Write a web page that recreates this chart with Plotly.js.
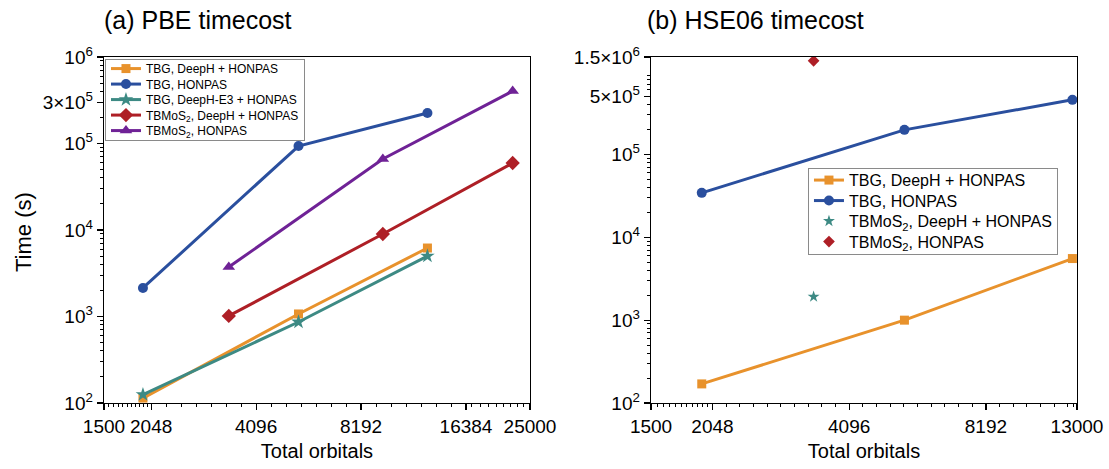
<!DOCTYPE html>
<html>
<head>
<meta charset="utf-8">
<script src="https://cdn.plot.ly/plotly-3.0.1.min.js"></script>
<style>html,body{margin:0;padding:0;background:#fff}#chart{width:1109px;height:469px}</style>
</head>
<body>
<div id="chart"></div>
<script>
// ---------- data ----------
var orbitalsTBG = [1940, 5420, 12700];
var orbitalsMoS2 = [3420, 9460, 22300];
var orbitalsMoS2HSE = [3420];

var pbeTBGDeepH = [114, 1070, 6190];
var pbeTBGHonpas = [2140, 93500, 225000];
var pbeTBGDeepHE3 = [125, 864, 5000];
var pbeMoS2DeepH = [1015, 8990, 59500];
var pbeMoS2Honpas = [3730, 66200, 404000];

var hseTBGDeepH = [170, 1000, 5540];
var hseTBGHonpas = [34400, 198000, 456000];
var hseMoS2DeepH = [1920];
var hseMoS2Honpas = [1350000];

var namesPBE = ['TBG, DeepH + HONPAS', 'TBG, HONPAS', 'TBG, DeepH-E3 + HONPAS',
                'TBMoS<sub>2</sub>, DeepH + HONPAS', 'TBMoS<sub>2</sub>, HONPAS'];
var namesHSE = ['TBG, DeepH + HONPAS', 'TBG, HONPAS',
                'TBMoS<sub>2</sub>, DeepH + HONPAS', 'TBMoS<sub>2</sub>, HONPAS'];

var xTicksLeft = [1500, 2048, 4096, 8192, 16384, 25000];
var xTicksRight = [1500, 2048, 4096, 8192, 13000];
var yTicksLeft = [100, 1000, 10000, 100000, 300000, 1000000];
var yTextLeft = ['10<sup>2</sup>', '10<sup>3</sup>', '10<sup>4</sup>', '10<sup>5</sup>', '3×10<sup>5</sup>', '10<sup>6</sup>'];
var yTicksRight = [100, 1000, 10000, 100000, 500000, 1500000];
var yTextRight = ['10<sup>2</sup>', '10<sup>3</sup>', '10<sup>4</sup>', '10<sup>5</sup>', '5×10<sup>5</sup>', '1.5×10<sup>6</sup>'];

// ---------- styles ----------
var cOrange = '#E8922C', cBlue = '#2A4F9E', cTeal = '#3D8A84', cRed = '#AE1F26', cPurple = '#6F2296';
var FONT = 'Liberation Sans, Arial, sans-serif';

// minor ticks
function octaveMinors(starts, n, maxv) {
  var out = [];
  starts.forEach(function (s) {
    for (var k = 1; k < n; k++) { var v = s * Math.pow(2, k / n); if (v < maxv) out.push(v); }
  });
  return out;
}
function stepMinors(a, b, step) { var o = []; for (var v = a; v <= b; v += step) o.push(v); return o; }
var minorXLeft = stepMinors(1550, 2000, 50).concat(octaveMinors([2048, 4096, 8192], 7, 16384)).concat(stepMinors(17000, 24000, 1000));
var minorXRight = stepMinors(1550, 2000, 50).concat(octaveMinors([2048, 4096], 10, 8192)).concat(octaveMinors([8192], 10, 12600)).concat([12800]);
function logMinors(d0, d1) { var o = []; for (var d = d0; d <= d1; d++) for (var k = 2; k <= 9; k++) o.push(k * Math.pow(10, d)); return o; }
var minorY = logMinors(2, 5);

function lineTrace(x, y, name, color, sym, size, xa, ya, leg) {
  return {x: x, y: y, name: name, type: 'scatter', mode: 'lines+markers', xaxis: xa, yaxis: ya, legend: leg,
          line: {color: color, width: 3}, marker: {color: color, symbol: sym, size: size}};
}
function markTrace(x, y, name, color, sym, size, xa, ya, leg) {
  return {x: x, y: y, name: name, type: 'scatter', mode: 'markers', xaxis: xa, yaxis: ya, legend: leg,
          marker: {color: color, symbol: sym, size: size}};
}

var traces = [
  lineTrace(orbitalsTBG, pbeTBGDeepH, namesPBE[0], cOrange, 'square', 9, 'x', 'y', 'legend'),
  lineTrace(orbitalsTBG, pbeTBGHonpas, namesPBE[1], cBlue, 'circle', 10, 'x', 'y', 'legend'),
  lineTrace(orbitalsTBG, pbeTBGDeepHE3, namesPBE[2], cTeal, 'star', 11, 'x', 'y', 'legend'),
  lineTrace(orbitalsMoS2, pbeMoS2DeepH, namesPBE[3], cRed, 'diamond', 11, 'x', 'y', 'legend'),
  lineTrace(orbitalsMoS2, pbeMoS2Honpas, namesPBE[4], cPurple, 'triangle-up', 11, 'x', 'y', 'legend'),
  lineTrace(orbitalsTBG, hseTBGDeepH, namesHSE[0], cOrange, 'square', 9, 'x2', 'y2', 'legend2'),
  lineTrace(orbitalsTBG, hseTBGHonpas, namesHSE[1], cBlue, 'circle', 10, 'x2', 'y2', 'legend2'),
  markTrace(orbitalsMoS2HSE, hseMoS2DeepH, namesHSE[2], cTeal, 'star', 9, 'x2', 'y2', 'legend2'),
  markTrace(orbitalsMoS2HSE, hseMoS2Honpas, namesHSE[3], cRed, 'diamond', 9, 'x2', 'y2', 'legend2')
];

function xAxis(domain, ticks, minors, maxv, anchor) {
  return {
    type: 'log', domain: domain, anchor: anchor,
    range: [Math.log10(1500), Math.log10(maxv)],
    tickmode: 'array', tickvals: ticks, ticktext: ticks.map(String),
    ticks: 'outside', ticklen: 6, tickwidth: 1.2, tickcolor: '#000',
    minor: {tickmode: 'array', tickvals: minors, ticks: 'outside', ticklen: 3, tickwidth: 1, tickcolor: '#000', showgrid: false},
    showline: true, linecolor: '#000', linewidth: 1.3, mirror: true,
    showgrid: false, zeroline: false, automargin: false,
    tickfont: {family: FONT, size: 19, color: '#000'},
    title: {text: 'Total orbitals', font: {family: FONT, size: 20, color: '#000'}, standoff: 8}
  };
}
function yAxis(ticks, texts, maxv, anchor) {
  return {
    type: 'log', domain: [0, 1], anchor: anchor,
    range: [2, Math.log10(maxv)],
    tickmode: 'array', tickvals: ticks, ticktext: texts,
    ticks: 'outside', ticklen: 6, tickwidth: 1.2, tickcolor: '#000',
    minor: {tickmode: 'array', tickvals: minorY, ticks: 'outside', ticklen: 3, tickwidth: 1, tickcolor: '#000', showgrid: false},
    showline: true, linecolor: '#000', linewidth: 1.3, mirror: true,
    showgrid: false, zeroline: false, automargin: false,
    tickfont: {family: FONT, size: 19, color: '#000'}
  };
}

var layout = {
  width: 1109, height: 469,
  margin: {l: 104, r: 32, t: 57, b: 66},
  paper_bgcolor: '#fff', plot_bgcolor: '#fff',
  font: {family: FONT, color: '#000'},
  showlegend: true,
  xaxis: xAxis([0, 0.4378], xTicksLeft, minorXLeft, 25000, 'y'),
  yaxis: yAxis(yTicksLeft, yTextLeft, 1000000, 'x'),
  xaxis2: xAxis([0.5622, 1], xTicksRight, minorXRight, 13000, 'y2'),
  yaxis2: yAxis(yTicksRight, yTextRight, 1500000, 'x2'),
  legend: {x: 0.001, y: 0.994, xanchor: 'left', yanchor: 'top', bgcolor: '#fff',
           bordercolor: '#8a8a8a', borderwidth: 1, font: {family: FONT, size: 12, color: '#000'},
           tracegroupgap: 0},
  legend2: {x: 0.7235, y: 0.679, xanchor: 'left', yanchor: 'top', bgcolor: '#fff',
            bordercolor: '#8a8a8a', borderwidth: 1, font: {family: FONT, size: 16, color: '#000'},
            tracegroupgap: 0},
  annotations: [
    {text: '(a) PBE timecost', xref: 'paper', yref: 'paper', x: -0.002, y: 1.107, xanchor: 'left', yanchor: 'middle',
     showarrow: false, font: {family: FONT, size: 25, color: '#000'}},
    {text: '(b) HSE06 timecost', xref: 'paper', yref: 'paper', x: 0.556, y: 1.107, xanchor: 'left', yanchor: 'middle',
     showarrow: false, font: {family: FONT, size: 25, color: '#000'}},
    {text: 'Time (s)', xref: 'paper', yref: 'paper', x: -0.0833, y: 0.494, xanchor: 'center', yanchor: 'middle',
     textangle: -90, showarrow: false, font: {family: FONT, size: 22, color: '#000'}}
  ]
};

// tighten legend row spacing to match the reference
function parseT(el) {
  var m = /translate\(\s*([-\d.e]+)[ ,]+([-\d.e]+)\s*\)/.exec(el.getAttribute('transform') || '');
  return m ? {x: +m[1], y: +m[2]} : {x: 0, y: 0};
}
function compressLegend(cls, topPad, spacing, bottomPad) {
  var leg = document.querySelector('g.' + cls);
  if (!leg) return;
  var items = leg.querySelectorAll('g.traces');
  if (!items.length) return;
  for (var i = 0; i < items.length; i++) {
    var t = parseT(items[i]);
    items[i].setAttribute('transform', 'translate(' + t.x + ',' + (topPad + i * spacing) + ')');
  }
  var h = topPad + (items.length - 1) * spacing + bottomPad;
  leg.querySelectorAll('rect.bg').forEach(function (r) { r.setAttribute('height', h); });
}

Plotly.newPlot('chart', traces, layout, {displayModeBar: false, staticPlot: true}).then(function () {
  compressLegend('legend', 9.5, 15.5, 9.5);
  compressLegend('legend2', 12, 20.5, 12);
});
</script>
</body>
</html>
